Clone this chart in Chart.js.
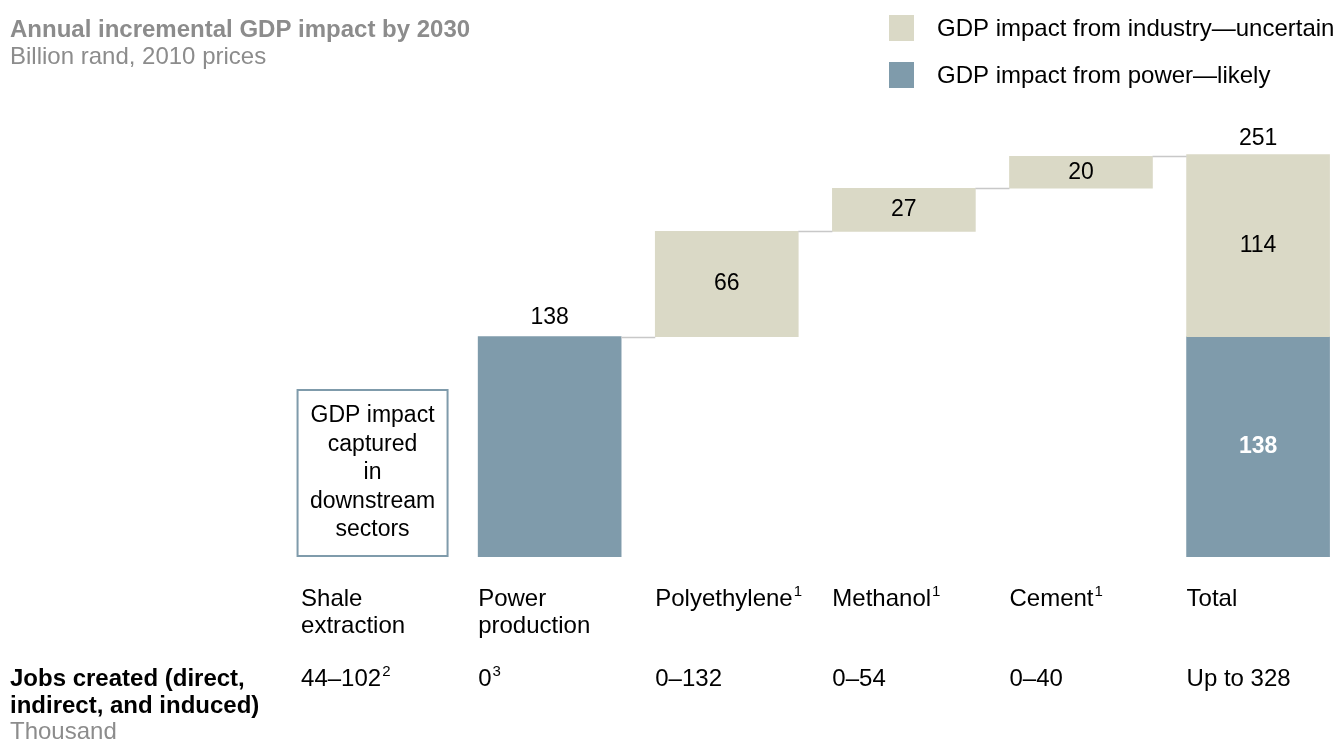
<!DOCTYPE html>
<html>
<head>
<meta charset="utf-8">
<script src="https://cdn.jsdelivr.net/npm/chart.js@4.4.1/dist/chart.umd.min.js"></script>
<style>
  html, body { margin: 0; padding: 0; background: #fff; }
  #wrap { position: relative; width: 1336px; height: 744px; }
</style>
</head>
<body>
<div id="wrap"><canvas id="chart"></canvas></div>
<script>
// data
const categories = [['Shale', 'extraction'], ['Power', 'production'], ['Polyethylene'], ['Methanol'], ['Cement'], ['Total']];
const categorySup = ['', '', '1', '1', '1', ''];
const industryValues = [0, 0, 66, 27, 20, 114];
const powerValues = [0, 138, 0, 0, 0, 138];
const totalValue = 251;
const jobs = ['44\u2013102', '0', '0\u2013132', '0\u201354', '0\u201340', 'Up to 328'];
const jobsSup = ['2', '3', '', '', '', ''];

const LIGHT = '#DAD9C6';
const BLUE = '#7F9BAB';
const FONT = "'Liberation Sans', Arial, sans-serif";

// waterfall: steps stack on top of each other, last column is the total
const industryBars = [];
const powerBars = [];
let running = 0;
categories.forEach((c, i) => {
  const isTotal = i === categories.length - 1;
  if (isTotal) {
    if (powerValues[i]) powerBars.push({ x: i, y: [0, powerValues[i]] });
    if (industryValues[i]) industryBars.push({ x: i, y: [powerValues[i], powerValues[i] + industryValues[i]] });
  } else {
    if (powerValues[i]) powerBars.push({ x: i, y: [running, running + powerValues[i]] });
    running += powerValues[i];
    if (industryValues[i]) industryBars.push({ x: i, y: [running, running + industryValues[i]] });
    running += industryValues[i];
  }
});

function supText(ctx, text, sup, x, y, size) {
  ctx.font = size + 'px ' + FONT;
  ctx.textAlign = 'left';
  ctx.textBaseline = 'middle';
  const w = ctx.measureText(text).width;
  ctx.fillText(text, x, y);
  if (sup) {
    ctx.font = Math.round(size * 0.62) + 'px ' + FONT;
    ctx.fillText(sup, x + w + 1, y - 7);
  }
}

const annotations = {
  id: 'annotations',
  afterDatasetsDraw(chart) {
    const ctx = chart.ctx;
    const xs = chart.scales.x, ys = chart.scales.y;
    const half = 71.5;
    ctx.save();

    // connectors between the steps
    ctx.strokeStyle = '#C8C8C8';
    ctx.lineWidth = 1.5;
    let level = 0;
    for (let i = 1; i < categories.length - 1; i++) {
      level += powerValues[i] + industryValues[i];
      const yy = Math.round(ys.getPixelForValue(level)) + 0.5;
      ctx.beginPath();
      ctx.moveTo(xs.getPixelForValue(i) + half, yy);
      ctx.lineTo(xs.getPixelForValue(i + 1) - half, yy);
      ctx.stroke();
    }

    // value labels
    ctx.fillStyle = '#000';
    ctx.font = '23px ' + FONT;
    ctx.textAlign = 'center';
    ctx.textBaseline = 'middle';
    running = 0;
    for (let i = 0; i < categories.length - 1; i++) {
      const cx = xs.getPixelForValue(i);
      if (powerValues[i]) {
        ctx.fillText(String(powerValues[i]), cx, ys.getPixelForValue(running + powerValues[i]) - 19);
        running += powerValues[i];
      }
      if (industryValues[i]) {
        ctx.fillText(String(industryValues[i]), cx, ys.getPixelForValue(running + industryValues[i] / 2));
        running += industryValues[i];
      }
    }
    const t = categories.length - 1;
    const tx = xs.getPixelForValue(t);
    ctx.fillText(String(totalValue), tx, ys.getPixelForValue(totalValue) - 18);
    ctx.fillText(String(industryValues[t]), tx, ys.getPixelForValue(powerValues[t] + industryValues[t] / 2));
    ctx.fillStyle = '#fff';
    ctx.font = 'bold 23px ' + FONT;
    ctx.fillText(String(powerValues[t]), tx, ys.getPixelForValue(powerValues[t] / 2));

    // shale box
    const sx = xs.getPixelForValue(0);
    ctx.strokeStyle = BLUE;
    ctx.lineWidth = 2;
    ctx.strokeRect(sx - 75, 390, 150, 166);
    ctx.fillStyle = '#000';
    ctx.font = '23px ' + FONT;
    ['GDP impact', 'captured', 'in', 'downstream', 'sectors'].forEach((l, k) => {
      ctx.fillText(l, sx, 416 + k * 28.5);
    });

    // category labels and jobs row
    categories.forEach((lines, i) => {
      const lx = xs.getPixelForValue(i) - half;
      ctx.fillStyle = '#000';
      lines.forEach((l, k) => {
        supText(ctx, l, k === lines.length - 1 ? categorySup[i] : '', lx, 599 + k * 27, 24);
      });
      supText(ctx, jobs[i], jobsSup[i], lx, 679, 24);
    });
    ctx.font = 'bold 24px ' + FONT;
    ctx.textAlign = 'left';
    ctx.fillText('Jobs created (direct,', 10, 679);
    ctx.fillText('indirect, and induced)', 10, 706);
    ctx.fillStyle = '#8C8C8C';
    ctx.font = '24px ' + FONT;
    ctx.fillText('Thousand', 10, 732);

    // title
    ctx.fillStyle = '#8C8C8C';
    ctx.font = 'bold 24px ' + FONT;
    ctx.fillText('Annual incremental GDP impact by 2030', 10, 30);
    ctx.font = '24px ' + FONT;
    ctx.fillText('Billion rand, 2010 prices', 10, 57);

    // legend
    ctx.fillStyle = LIGHT;
    ctx.fillRect(889, 15, 25, 26);
    ctx.fillStyle = BLUE;
    ctx.fillRect(889, 62, 25, 26);
    ctx.fillStyle = '#000';
    ctx.font = '24px ' + FONT;
    ctx.fillText('GDP impact from industry\u2014uncertain', 937, 29);
    ctx.fillText('GDP impact from power\u2014likely', 937, 76);

    ctx.restore();
  }
};

new Chart(document.getElementById('chart'), {
  type: 'bar',
  data: {
    datasets: [
      { label: 'GDP impact from industry\u2014uncertain', data: industryBars, backgroundColor: LIGHT, grouped: false, barThickness: 143 },
      { label: 'GDP impact from power\u2014likely', data: powerBars, backgroundColor: BLUE, grouped: false, barThickness: 143 }
    ]
  },
  options: {
    responsive: true,
    maintainAspectRatio: false,
    animation: false,
    layout: { padding: { left: 284, right: 0, top: 110, bottom: 187 } },
    plugins: { legend: { display: false }, tooltip: { enabled: false } },
    scales: {
      x: { type: 'linear', min: -0.5, max: 5.44, offset: false, display: false },
      y: { min: 0, max: 280, display: false }
    }
  },
  plugins: [annotations]
});
</script>
</body>
</html>
